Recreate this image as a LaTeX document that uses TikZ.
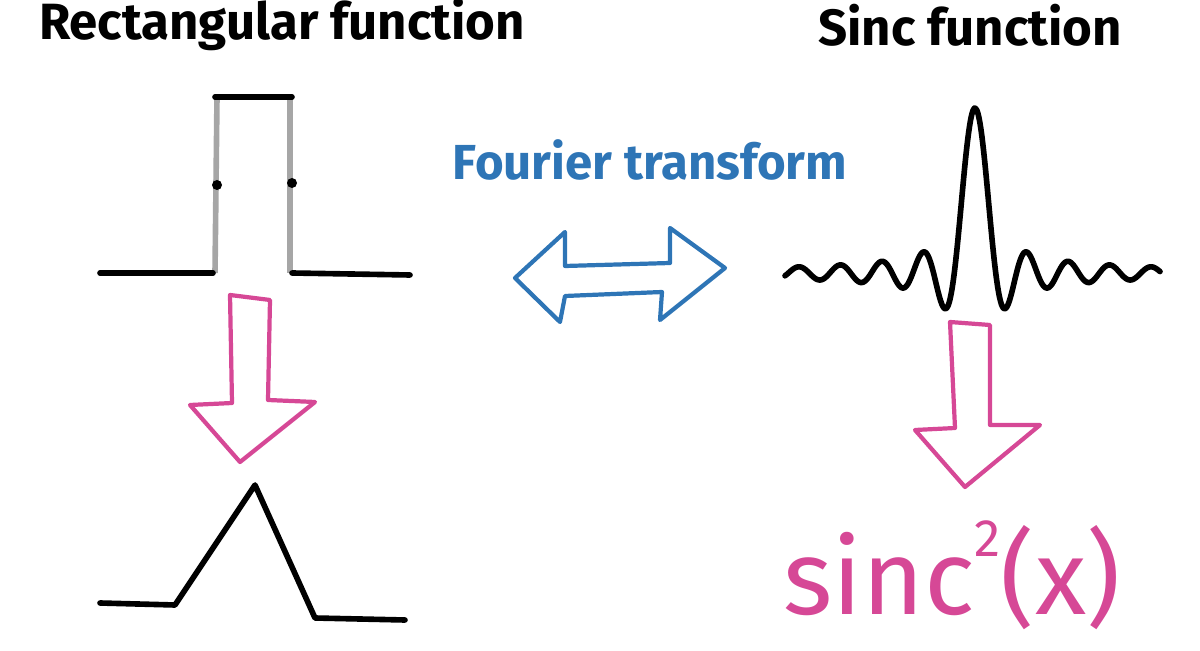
\documentclass[tikz,border=0pt]{standalone}
\usepackage{fontspec}
\setmainfont{Fira Sans}
\definecolor{fblue}{RGB}{46,117,182}
\definecolor{fpink}{RGB}{214,72,150}
\begin{document}
\begin{tikzpicture}[x=0.02cm,y=-0.02cm,
	curve/.style={draw=black, line width=3.2pt, line cap=round, line join=round},
	side/.style={draw=gray!70, line width=3.2pt},
	bigarrow/.style={draw=#1, line width=2.4pt, line join=round},
	title/.style={black, font=\bfseries\fontsize{29}{32}\selectfont}]
	\useasboundingbox (0,0) rectangle (1200,651);
	% titles
	\node[title] (rtitle) at (282,25) {Rectangular function};
	\node[title] (stitle) at (970,25) {Sinc function};
	\node[fblue, font=\bfseries\fontsize{28}{30}\selectfont] (ft) at (650,160) {Fourier transform};
	% rectangular function
	\draw[side] (215,273) -- (217,97);
	\draw[side] (290,97) -- (290,273);
	\draw[curve] (100,273) -- (213,273);
	\draw[curve] (292,273) -- (410,275);
	\draw[curve] (215,97) -- (292,97);
	\fill (217,185) circle (5);
	\fill (292,183) circle (5);
	% double arrow
	\draw[bigarrow=fblue] (515,278) -- (565,232) -- (565,266) -- (670,263) -- (670,228)
		-- (725,268) -- (660,320) -- (662,292) -- (565,296) -- (560,322) -- cycle;
	% sinc function
	\draw[curve, domain=785:1160, samples=300, smooth]
		plot (\x, {273-165*sin(((\x-975)/6.6) r)/((\x-975)/6.6+0.0001)});
	% pink arrows
	\draw[bigarrow=fpink] (230,295) -- (270,300) -- (268,400) -- (315,402) -- (240,462)
		-- (190,405) -- (232,403) -- cycle;
	\draw[bigarrow=fpink] (950,322) -- (990,325) -- (990,425) -- (1040,425) -- (965,487)
		-- (915,430) -- (955,428) -- cycle;
	% triangle
	\draw[curve] (100,603) -- (175,605) -- (255,485) -- (315,618) -- (405,620);
	\node[fpink, font=\fontsize{60}{64}\selectfont] (sq) at (952,575)
		{sinc\raisebox{0.55em}{\fontsize{30}{32}\selectfont 2}(x)};
\end{tikzpicture}
\end{document}
